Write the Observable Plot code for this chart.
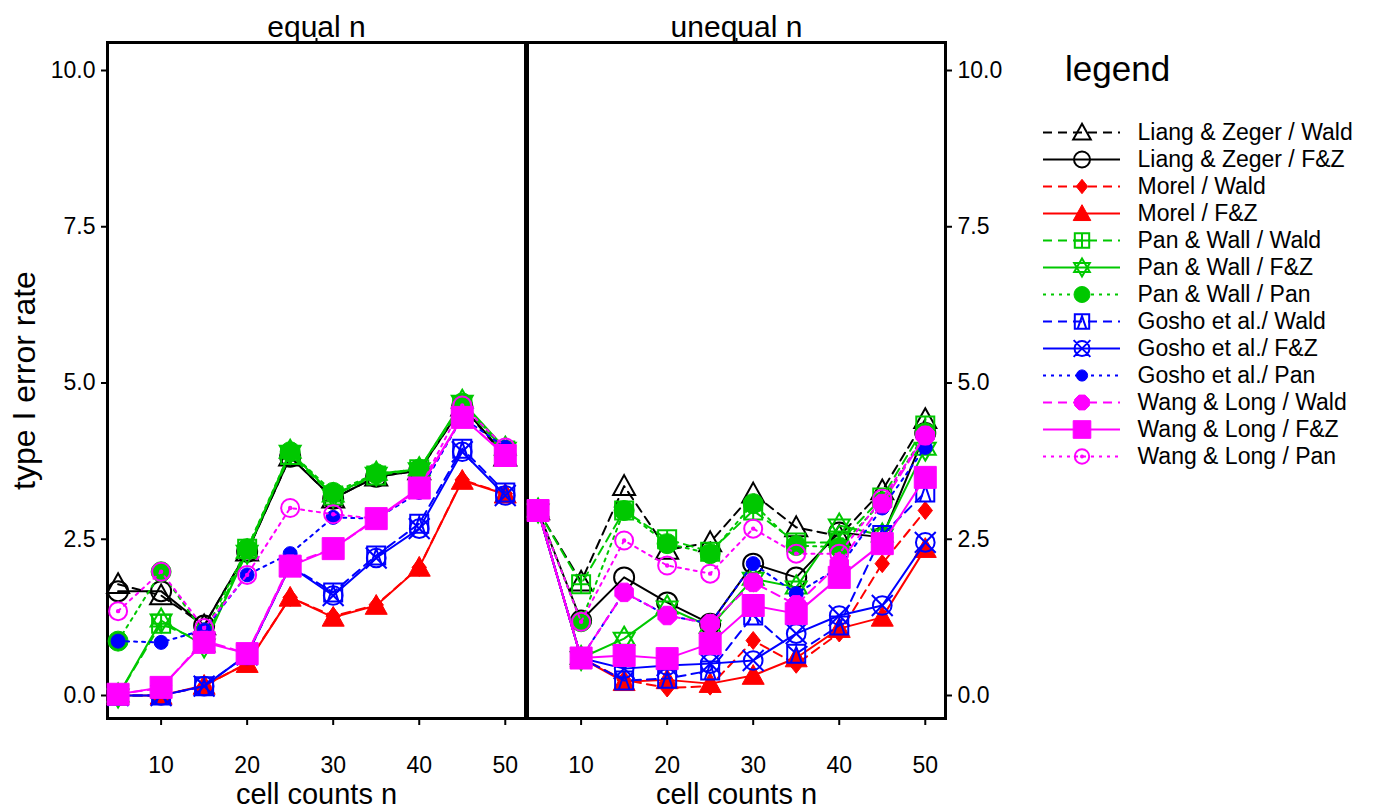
<!DOCTYPE html>
<html><head><meta charset="utf-8">
<script src="https://cdn.jsdelivr.net/npm/d3@7"></script>
<script src="https://cdn.jsdelivr.net/npm/@observablehq/plot@0.6"></script>
<style>
body{margin:0;background:#fff;font-family:"Liberation Sans",Arial,sans-serif;}
#wrap{position:relative;width:1384px;height:809px;overflow:hidden;}
#chart{position:absolute;left:0;top:0;}
#legend{position:absolute;left:1000px;top:0;}
#legendTitle{position:absolute;left:1065px;top:49px;font-size:35px;line-height:40px;color:#000;}
</style></head><body>
<div id="wrap"><div id="chart"></div><div id="legendTitle">legend</div><div id="legend"></div></div>
<script>
// ---------- data ----------
const nValues = [5, 10, 15, 20, 25, 30, 35, 40, 45, 50];
const panels = ["equal n", "unequal n"];
const xTicks = [10, 20, 30, 40, 50];
const yTicks = [0, 2.5, 5, 7.5, 10];
const seriesNames = [
  "Liang & Zeger / Wald", "Liang & Zeger / F&Z",
  "Morel / Wald", "Morel / F&Z",
  "Pan & Wall / Wald", "Pan & Wall / F&Z", "Pan & Wall / Pan",
  "Gosho et al./ Wald", "Gosho et al./ F&Z", "Gosho et al./ Pan",
  "Wang & Long / Wald", "Wang & Long / F&Z", "Wang & Long / Pan"
];

const lzWald_eq     = [1.78, 1.60, 1.12, 2.30, 3.82, 3.15, 3.50, 3.60, 4.62, 3.82];
const lzWald_un     = [2.96, 1.82, 3.35, 2.33, 2.45, 3.23, 2.69, 2.55, 3.28, 4.42];
const lzFZ_eq       = [1.67, 1.67, 1.12, 2.30, 3.82, 3.15, 3.50, 3.60, 4.62, 3.85];
const lzFZ_un       = [2.96, 1.20, 1.89, 1.49, 1.15, 2.11, 1.89, 2.61, 2.53, 4.20];
const morelWald_eq  = [0.00, 0.00, 0.15, 0.52, 1.57, 1.27, 1.45, 2.05, 3.45, 3.23];
const morelWald_un  = [2.96, 0.60, 0.25, 0.12, 0.15, 0.88, 0.50, 1.00, 2.11, 2.96];
const morelFZ_eq    = [0.00, 0.00, 0.16, 0.51, 1.57, 1.25, 1.44, 2.05, 3.44, 3.22];
const morelFZ_un    = [2.96, 0.60, 0.22, 0.25, 0.19, 0.32, 0.60, 1.07, 1.25, 2.35];
const pwWald_eq     = [0.00, 1.15, 0.85, 2.35, 3.85, 3.20, 3.52, 3.62, 4.65, 3.92];
const pwWald_un     = [2.96, 1.78, 2.96, 2.50, 2.30, 2.96, 2.45, 2.45, 3.17, 4.32];
const pwFZ_eq       = [0.00, 1.20, 0.80, 2.30, 3.90, 3.20, 3.55, 3.62, 4.70, 3.95];
const pwFZ_un       = [2.96, 0.60, 0.91, 1.41, 1.10, 1.87, 1.73, 2.72, 2.56, 3.95];
const pwPan_eq      = [0.87, 1.98, 1.00, 2.35, 3.90, 3.25, 3.55, 3.62, 4.68, 3.92];
const pwPan_un      = [2.96, 1.18, 2.96, 2.43, 2.27, 3.07, 2.40, 2.37, 3.10, 4.20];
const goshoWald_eq  = [0.00, 0.00, 0.15, 0.65, 2.07, 1.65, 2.24, 2.75, 3.95, 3.25];
const goshoWald_un  = [2.96, 0.60, 0.24, 0.27, 0.40, 1.28, 0.67, 1.12, 2.57, 3.25];
const goshoFZ_eq    = [0.00, 0.00, 0.15, 0.65, 2.07, 1.60, 2.20, 2.67, 3.90, 3.20];
const goshoFZ_un    = [2.96, 0.60, 0.43, 0.48, 0.51, 0.56, 0.99, 1.28, 1.44, 2.45];
const goshoPan_eq   = [0.87, 0.85, 1.05, 1.93, 2.27, 2.85, 2.83, 3.25, 4.45, 3.97];
const goshoPan_un   = [2.96, 0.60, 1.65, 1.28, 1.15, 2.11, 1.63, 2.05, 3.00, 3.97];
const wlWald_eq     = [0.02, 0.12, 0.88, 0.67, 2.10, 2.35, 2.82, 3.30, 4.45, 3.85];
const wlWald_un     = [2.96, 0.60, 1.65, 1.28, 1.15, 1.81, 1.45, 2.11, 3.07, 4.16];
const wlFZ_eq       = [0.02, 0.13, 0.85, 0.67, 2.07, 2.35, 2.83, 3.32, 4.45, 3.84];
const wlFZ_un       = [2.96, 0.60, 0.64, 0.59, 0.83, 1.44, 1.31, 1.89, 2.43, 3.49];
const wlPan_eq      = [1.35, 1.98, 1.08, 1.93, 3.00, 2.90, 2.83, 3.30, 4.64, 3.97];
const wlPan_un      = [2.96, 1.18, 2.48, 2.08, 1.95, 2.67, 2.27, 2.27, 3.15, 4.16];

const seriesValues = [
  [lzWald_eq, lzWald_un], [lzFZ_eq, lzFZ_un],
  [morelWald_eq, morelWald_un], [morelFZ_eq, morelFZ_un],
  [pwWald_eq, pwWald_un], [pwFZ_eq, pwFZ_un], [pwPan_eq, pwPan_un],
  [goshoWald_eq, goshoWald_un], [goshoFZ_eq, goshoFZ_un], [goshoPan_eq, goshoPan_un],
  [wlWald_eq, wlWald_un], [wlFZ_eq, wlFZ_un], [wlPan_eq, wlPan_un]
];

// ---------- styles ----------
const BLACK = "#000000", RED = "#ff0000", GREEN = "#00c800", BLUE = "#0000ff", MAG = "#ff00ff";
const DASH = "9,6", DOT = "3,5", SOLID = null;

const sym = f => ({draw(ctx, size) { f(ctx, Math.sqrt(size / Math.PI)); }});
const circ = (c, x, y, r) => { c.moveTo(x + r, y); c.arc(x, y, r, 0, 2 * Math.PI); };
const tri = (c, r) => { c.moveTo(0, -r); c.lineTo(r, 0.8 * r); c.lineTo(-r, 0.8 * r); c.closePath(); };
const sq = (c, h) => { c.moveTo(-h, -h); c.lineTo(h, -h); c.lineTo(h, h); c.lineTo(-h, h); c.closePath(); };

const symTri = sym((c, r) => tri(c, r));
const symCircle = sym((c, r) => circ(c, 0, 0, r));
const symDiamond = sym((c, r) => { c.moveTo(0, -r); c.lineTo(0.8 * r, 0); c.lineTo(0, r); c.lineTo(-0.8 * r, 0); c.closePath(); });
const symSquarePlus = sym((c, r) => { const h = 0.9 * r; sq(c, h); c.moveTo(0, -h); c.lineTo(0, h); c.moveTo(-h, 0); c.lineTo(h, 0); });
const symStar = sym((c, r) => {
  c.moveTo(0, -r); c.lineTo(0.87 * r, 0.5 * r); c.lineTo(-0.87 * r, 0.5 * r); c.closePath();
  c.moveTo(0, r); c.lineTo(0.87 * r, -0.5 * r); c.lineTo(-0.87 * r, -0.5 * r); c.closePath();
});
const symSquareTri = sym((c, r) => { const h = 0.9 * r; sq(c, h); c.moveTo(0, -0.75 * h); c.lineTo(0.6 * h, h); c.lineTo(-0.6 * h, h); c.closePath(); });
const symCircleX = sym((c, r) => { circ(c, 0, 0, 0.85 * r); const k = 0.95 * r; c.moveTo(-k, -k); c.lineTo(k, k); c.moveTo(k, -k); c.lineTo(-k, k); });
const symOct = sym((c, r) => { for (let i = 0; i < 8; i++) { const a = Math.PI / 8 + i * Math.PI / 4; const x = r * Math.cos(a), y = r * Math.sin(a); i ? c.lineTo(x, y) : c.moveTo(x, y); } c.closePath(); });
const symSquare = sym((c, r) => sq(c, r));
const symCircleDot = sym((c, r) => { circ(c, 0, 0, 0.9 * r); circ(c, 0, 0, 0.12 * r); });

// per series: color, dash, symbol, radius, filled
const seriesStyle = [
  {color: BLACK, dash: DASH, symbol: symTri, r: 11, filled: false},
  {color: BLACK, dash: SOLID, symbol: symCircle, r: 10, filled: false},
  {color: RED, dash: DASH, symbol: symDiamond, r: 9, filled: true},
  {color: RED, dash: SOLID, symbol: symTri, r: 11, filled: true},
  {color: GREEN, dash: DASH, symbol: symSquarePlus, r: 10, filled: false},
  {color: GREEN, dash: SOLID, symbol: symStar, r: 12, filled: false},
  {color: GREEN, dash: DOT, symbol: symCircle, r: 10, filled: true},
  {color: BLUE, dash: DASH, symbol: symSquareTri, r: 10, filled: false},
  {color: BLUE, dash: SOLID, symbol: symCircleX, r: 11, filled: false},
  {color: BLUE, dash: DOT, symbol: symCircle, r: 7, filled: true},
  {color: MAG, dash: DASH, symbol: symOct, r: 10, filled: true},
  {color: MAG, dash: SOLID, symbol: symSquare, r: 11, filled: true},
  {color: MAG, dash: DOT, symbol: symCircleDot, r: 10, filled: false}
];

// ---------- table ----------
const rows = [];
seriesNames.forEach((s, i) => panels.forEach((p, j) =>
  nValues.forEach((n, k) => rows.push({series: s, panel: p, n, v: seriesValues[i][j][k]}))));

const dotOpts = (st) => st.filled
  ? {fill: st.color, stroke: st.color, strokeWidth: 1}
  : {fill: "none", stroke: st.color, strokeWidth: 2};

const marks = [
  Plot.frame({stroke: BLACK, strokeWidth: 3}),
  Plot.axisFx({anchor: "top", label: null, tickSize: 5, tickPadding: 1, fontSize: 30, strokeWidth: 2}),
  Plot.axisX(xTicks, {anchor: "bottom", label: null, tickSize: 7, tickPadding: 31, strokeWidth: 2}),
  Plot.axisY(yTicks, {anchor: "left", tickSize: 6, tickPadding: 6, strokeWidth: 2, tickFormat: d3.format(".1f"), label: null}),
  Plot.axisY(yTicks, {anchor: "right", tickSize: 6, tickPadding: 6, strokeWidth: 2, tickFormat: d3.format(".1f"), label: null}),
  Plot.text(["type I error rate"], {fx: () => panels[0], text: d => d, frameAnchor: "left", textAnchor: "middle", rotate: -90, dx: -83, fontSize: 32}),
  Plot.text(["cell counts n"], {text: d => d, frameAnchor: "bottom", dy: 85, fontSize: 29})
];
seriesNames.forEach((s, i) => {
  const st = seriesStyle[i];
  const d = rows.filter(r => r.series === s);
  marks.push(Plot.line(d, {x: "n", y: "v", fx: "panel", stroke: st.color, strokeWidth: 2, strokeDasharray: st.dash}));
  marks.push(Plot.dot(d, {x: "n", y: "v", fx: "panel", symbol: st.symbol, r: st.r, ...dotOpts(st)}));
});

const chart = Plot.plot({
  width: 1010, height: 809,
  marginLeft: 107, marginRight: 65, marginTop: 42, marginBottom: 91,
  style: {fontFamily: "'Liberation Sans', Arial, sans-serif", fontSize: "23px", color: "#000", background: "#fff", overflow: "visible"},
  fx: {domain: panels, paddingInner: 0.005, paddingOuter: 0, label: null},
  x: {domain: [3.77, 52.35]},
  y: {domain: [-0.368, 10.448]},
  marks
});
document.getElementById("chart").appendChild(chart);

// ---------- legend ----------
const legendMarks = [];
seriesNames.forEach((s, i) => {
  const st = seriesStyle[i];
  legendMarks.push(Plot.ruleY([s], {y: d => d, stroke: st.color, strokeWidth: 2, strokeDasharray: st.dash}));
  legendMarks.push(Plot.dot([s], {y: d => d, frameAnchor: "middle", symbol: st.symbol, r: Math.min(st.r * 0.8, 9), ...dotOpts(st)}));
});
legendMarks.push(Plot.text(seriesNames, {y: d => d, text: d => d, frameAnchor: "right", textAnchor: "start", dx: 17, fontSize: 23, fill: BLACK}));

const legend = Plot.plot({
  width: 384, height: 809,
  marginLeft: 43, marginRight: 264, marginTop: 127, marginBottom: 348,
  style: {fontFamily: "'Liberation Sans', Arial, sans-serif", fontSize: "23px", color: "#000", background: "transparent", overflow: "visible"},
  x: {domain: [0, 1], axis: null},
  y: {type: "point", domain: seriesNames, padding: 0, axis: null},
  marks: legendMarks
});
document.getElementById("legend").appendChild(legend);
</script>
</body></html>
